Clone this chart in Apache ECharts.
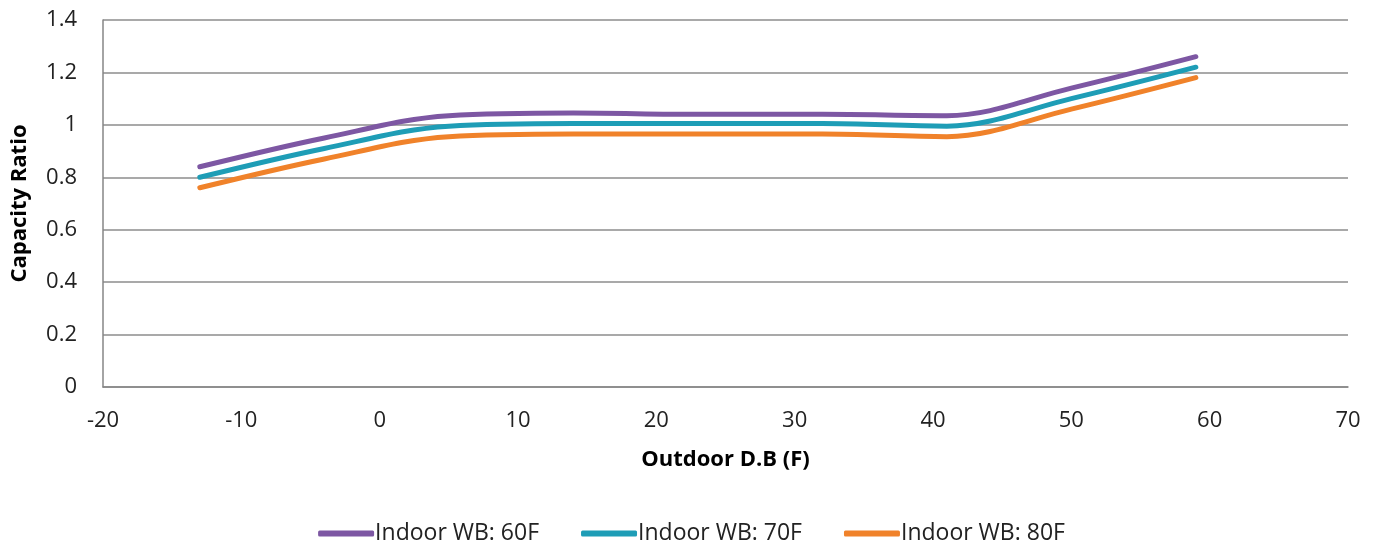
<!DOCTYPE html>
<html><head><meta charset="utf-8">
<script src="https://cdn.jsdelivr.net/npm/echarts@6/dist/echarts.min.js"></script>
<style>html,body{margin:0;padding:0;background:#fff}#c{width:1383px;height:550px}</style>
</head><body><div id="c"></div>
<script>
const xValues = [-13, -4, 5, 14, 23, 32, 41, 50, 59];
const wb60 = [0.84, 0.95, 1.035, 1.045, 1.04, 1.04, 1.035, 1.14, 1.26];
const wb70 = [0.80, 0.91, 0.995, 1.005, 1.005, 1.005, 0.995, 1.10, 1.22];
const wb80 = [0.76, 0.87, 0.955, 0.965, 0.965, 0.965, 0.955, 1.06, 1.18];
const seriesNames = ['Indoor WB: 60F', 'Indoor WB: 70F', 'Indoor WB: 80F'];
const colors = ['#7D57A3', '#1E9DB6', '#F0822A'];
const font = 'Open Sans';
const chart = echarts.init(document.getElementById('c'));
const mk = (name, vals, color) => ({
  name, type: 'line', smooth: 0.35, showSymbol: false, symbol: 'none',
  data: xValues.map((x, i) => [x, vals[i]]),
  lineStyle: { width: 5, color, cap: 'round' }, itemStyle: { color }
});
chart.setOption({
  animation: false,
  grid: { left: 103, right: 35, top: 20, bottom: 163, containLabel: false, outerBoundsMode: 'none' },
  xAxis: {
    type: 'value', min: -20, max: 70, interval: 10,
    name: 'Outdoor D.B (F)', nameLocation: 'middle', nameGap: 62,
    nameTextStyle: { fontFamily: font, fontWeight: 'bold', fontSize: 22, color: '#000' },
    axisLine: { show: true, onZero: false, lineStyle: { color: '#868686', width: 1.5 } },
    axisTick: { show: false },
    axisLabel: { fontFamily: font, fontSize: 22, color: '#222', margin: 23 },
    splitLine: { show: false }
  },
  yAxis: {
    type: 'value', min: 0, max: 1.4, interval: 0.2,
    name: 'Capacity Ratio', nameLocation: 'middle', nameGap: 72, nameRotate: 90,
    nameTextStyle: { fontFamily: font, fontWeight: 'bold', fontSize: 22, color: '#000' },
    axisLine: { show: true, onZero: false, lineStyle: { color: '#868686', width: 1.5 } },
    axisTick: { show: false },
    axisLabel: { fontFamily: font, fontSize: 22, color: '#222', margin: 26,
      formatter: v => String(Math.round(v * 10) / 10) },
    splitLine: { lineStyle: { color: '#8c8c8c', width: 1.5 } }
  },
  legend: {
    bottom: 0, left: 'center', icon: 'roundRect', itemWidth: 56, itemHeight: 6, itemGap: 42,
    textStyle: { fontFamily: font, fontSize: 23, color: '#222', padding: [0, 0, 0, -4] },
    data: seriesNames
  },
  series: [mk(seriesNames[0], wb60, colors[0]), mk(seriesNames[1], wb70, colors[1]), mk(seriesNames[2], wb80, colors[2])]
});
</script></body></html>
